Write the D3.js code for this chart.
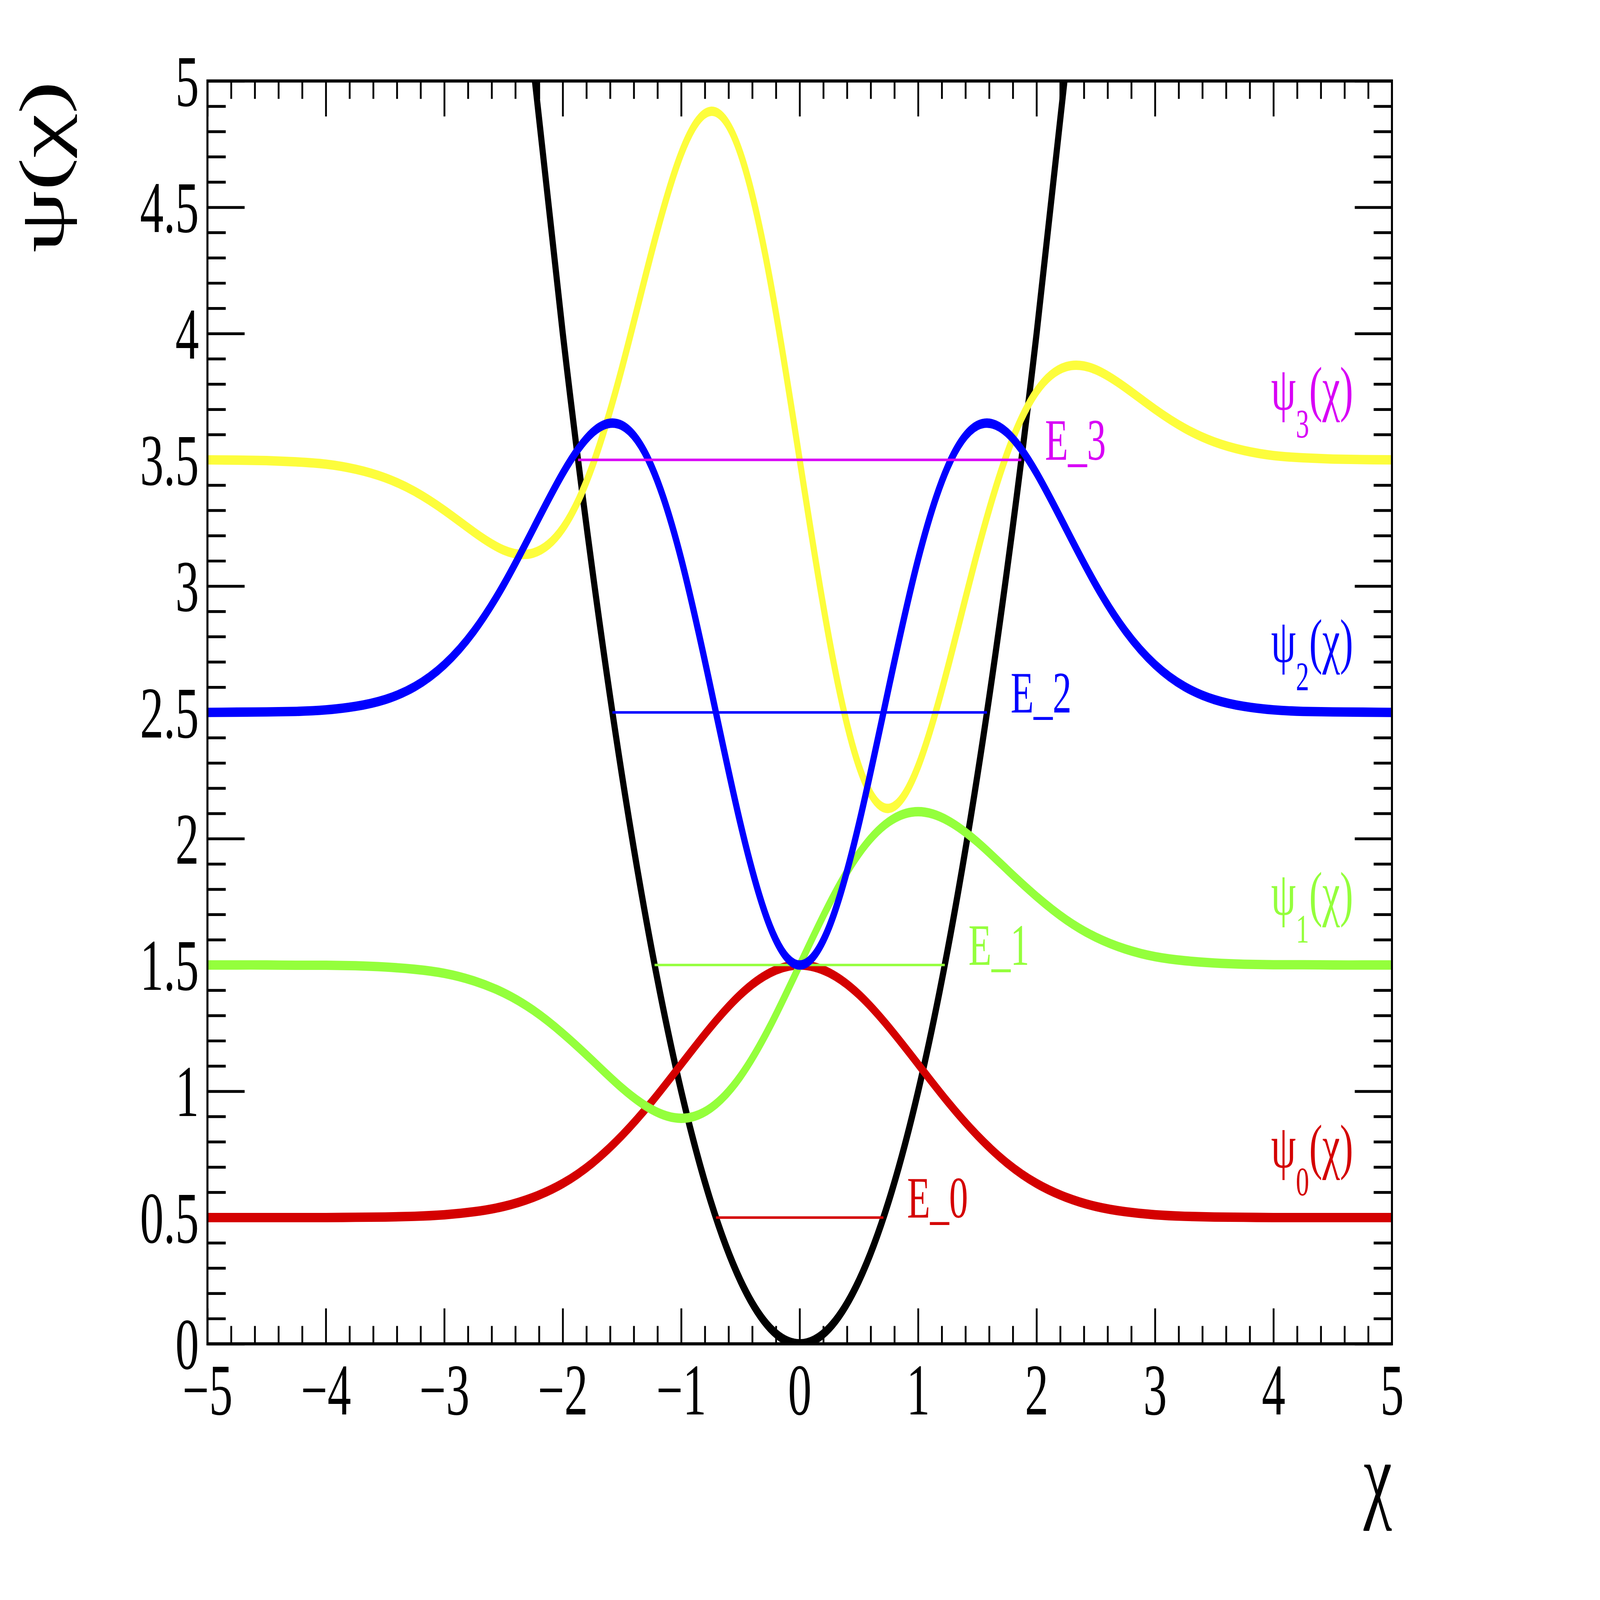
<!DOCTYPE html>
<html>
<head>
<meta charset="utf-8">
<script src="https://cdn.jsdelivr.net/npm/d3@7"></script>
<style>
html, body { margin: 0; padding: 0; background: #fff; overflow: hidden; }
svg { display: block; width: 100vw; height: 100vh; }
text { font-family: "Liberation Serif", "Times New Roman", serif; }
</style>
</head>
<body>
<svg id="chart" viewBox="0 0 7875 5097" preserveAspectRatio="none"></svg>
<script>
// sample positions along chi (every 0.25)
var xGrid = [-5, -4.75, -4.5, -4.25, -4, -3.75, -3.5, -3.25, -3, -2.75, -2.5, -2.25, -2, -1.75, -1.5, -1.25, -1, -0.75, -0.5, -0.25,
             0, 0.25, 0.5, 0.75, 1, 1.25, 1.5, 1.75, 2, 2.25, 2.5, 2.75, 3, 3.25, 3.5, 3.75, 4, 4.25, 4.5, 4.75, 5];

// wave functions shifted by their energy level
var psi0 = [0.500, 0.500, 0.500, 0.500, 0.500, 0.501, 0.502, 0.505, 0.511, 0.523, 0.544, 0.580, 0.635, 0.716, 0.825, 0.958, 1.107, 1.255, 1.383, 1.469,
            1.500, 1.469, 1.383, 1.255, 1.107, 0.958, 0.825, 0.716, 0.635, 0.580, 0.544, 0.523, 0.511, 0.505, 0.502, 0.501, 0.500, 0.500, 0.500, 0.500, 0.500];
var psi1 = [1.500, 1.500, 1.500, 1.499, 1.499, 1.497, 1.492, 1.483, 1.467, 1.437, 1.390, 1.321, 1.229, 1.122, 1.013, 0.928, 0.893, 0.934, 1.059, 1.258,
            1.500, 1.742, 1.941, 2.066, 2.107, 2.072, 1.987, 1.878, 1.771, 1.679, 1.610, 1.563, 1.533, 1.517, 1.508, 1.503, 1.501, 1.501, 1.500, 1.500, 1.500];
var psi2 = [2.500, 2.501, 2.502, 2.504, 2.510, 2.524, 2.551, 2.602, 2.689, 2.822, 3.005, 3.226, 3.447, 3.608, 3.636, 3.473, 3.107, 2.594, 2.059, 1.652,
            1.500, 1.652, 2.059, 2.594, 3.107, 3.473, 3.636, 3.608, 3.447, 3.226, 3.005, 2.822, 2.689, 2.602, 2.551, 2.524, 2.510, 2.504, 2.502, 2.501, 2.500];
var psi3 = [3.500, 3.499, 3.497, 3.492, 3.483, 3.463, 3.429, 3.375, 3.300, 3.214, 3.143, 3.131, 3.229, 3.476, 3.865, 4.323, 4.713, 4.880, 4.713, 4.212,
            3.500, 2.788, 2.287, 2.120, 2.287, 2.677, 3.135, 3.524, 3.771, 3.869, 3.857, 3.786, 3.700, 3.625, 3.571, 3.537, 3.517, 3.508, 3.503, 3.501, 3.500];

// the potential well
var potX = [-2.25, -2, -1.75, -1.5, -1.25, -1, -0.75, -0.5, -0.25, 0, 0.25, 0.5, 0.75, 1, 1.25, 1.5, 1.75, 2, 2.25];
var potV = [5.0625, 4, 3.0625, 2.25, 1.5625, 1, 0.5625, 0.25, 0.0625, 0, 0.0625, 0.25, 0.5625, 1, 1.5625, 2.25, 3.0625, 4, 5.0625];

// energy levels and where they meet the well
var levelEnergy = [0.5, 1.5, 2.5, 3.5];
var turnLeft = [-0.707, -1.225, -1.581, -1.871];
var turnRight = [0.707, 1.225, 1.581, 1.871];
var energyLabel = ["E_0", "E_1", "E_2", "E_3"];
var waveSub = ["0", "1", "2", "3"];

var xTicks = [-5, -4, -3, -2, -1, 0, 1, 2, 3, 4, 5];
var yTicks = [0, 0.5, 1, 1.5, 2, 2.5, 3, 3.5, 4, 4.5, 5];

var waves = [psi0, psi1, psi2, psi3];
var curveColor = ["#d40000", "#94ff3c", "#0000ff", "#fdfd3c"];
var labelColor = ["#d40000", "#94ff3c", "#0000ff", "#d800f6"];

var svg = d3.select("#chart");
var padL = 1021, padR = 6851, padT = 258, padB = 4281;

var x = d3.scaleLinear().domain([-5, 5]).range([padL, padR]);
var y = d3.scaleLinear().domain([0, 5]).range([padB, padT]);
var fmt = d3.format("~g");

var minorX = d3.range(-25, 26).map(i => i * 0.2).filter(v => Math.abs(v - Math.round(v)) > 1e-6);
var minorY = d3.range(0, 51).map(i => i * 0.1).filter(v => Math.abs(v * 2 - Math.round(v * 2)) > 1e-6);

// axes, ticks pointing inwards on all four sides
function styleAxis(g) {
    g.attr("font-size", null).attr("font-family", null);
    g.select(".domain").remove();
    g.selectAll(".tick line").attr("stroke", "#000").attr("stroke-width", 9);
}

var gx = svg.append("g").attr("transform", `translate(0,${padB})`)
    .call(d3.axisBottom(x).tickValues(xTicks).tickFormat(fmt).tickSize(-113).tickSizeOuter(0));
styleAxis(gx);
gx.selectAll("text").attr("y", 225).attr("dy", null).attr("font-size", 232).attr("fill", "#000");

svg.append("g").attr("transform", `translate(0,${padB})`)
    .call(d3.axisBottom(x).tickValues(minorX).tickFormat("").tickSize(-57).tickSizeOuter(0))
    .call(styleAxis);

svg.append("g").attr("transform", `translate(0,${padT})`)
    .call(d3.axisTop(x).tickValues(xTicks).tickFormat("").tickSize(-113).tickSizeOuter(0))
    .call(styleAxis);
svg.append("g").attr("transform", `translate(0,${padT})`)
    .call(d3.axisTop(x).tickValues(minorX).tickFormat("").tickSize(-57).tickSizeOuter(0))
    .call(styleAxis);

var gy = svg.append("g").attr("transform", `translate(${padL},0)`)
    .call(d3.axisLeft(y).tickValues(yTicks).tickFormat(fmt).tickSize(-183).tickSizeOuter(0));
styleAxis(gy);
gy.selectAll("text").attr("x", -42).attr("dy", "0.34em").attr("font-size", 232).attr("fill", "#000");

svg.append("g").attr("transform", `translate(${padL},0)`)
    .call(d3.axisLeft(y).tickValues(minorY).tickFormat("").tickSize(-90).tickSizeOuter(0))
    .call(styleAxis);

svg.append("g").attr("transform", `translate(${padR},0)`)
    .call(d3.axisRight(y).tickValues(yTicks).tickFormat("").tickSize(-183).tickSizeOuter(0))
    .call(styleAxis);
svg.append("g").attr("transform", `translate(${padR},0)`)
    .call(d3.axisRight(y).tickValues(minorY).tickFormat("").tickSize(-90).tickSizeOuter(0))
    .call(styleAxis);

// axis titles
svg.append("text")
    .attr("transform", `translate(312,${padT}) rotate(-90)`)
    .attr("text-anchor", "end")
    .attr("font-size", 315)
    .text("ψ(χ)");

svg.append("text")
    .attr("x", padR).attr("y", 4810)
    .attr("text-anchor", "end")
    .attr("font-size", 315)
    .text("χ");

// curves
svg.append("clipPath").attr("id", "plotClip")
    .append("rect").attr("x", padL).attr("y", padT).attr("width", padR - padL).attr("height", padB - padT);

var waveLine = d3.line()
    .x((d, i) => x(xGrid[i]))
    .y(d => y(d))
    .curve(d3.curveNatural);

var potLine = d3.line()
    .x((d, i) => x(potX[i]))
    .y(d => y(d))
    .curve(d3.curveNatural);

var plot = svg.append("g").attr("clip-path", "url(#plotClip)");

plot.append("path")
    .attr("d", potLine(potV))
    .attr("fill", "none").attr("stroke", "#000").attr("stroke-width", 30);

function drawWave(n) {
    plot.append("path")
        .attr("d", waveLine(waves[n]))
        .attr("fill", "none")
        .attr("stroke", curveColor[n])
        .attr("stroke-width", 30);
}

function drawLevel(n) {
    plot.append("line")
        .attr("x1", x(turnLeft[n])).attr("x2", x(turnRight[n]))
        .attr("y1", y(levelEnergy[n])).attr("y2", y(levelEnergy[n]))
        .attr("stroke", labelColor[n])
        .attr("stroke-width", 8);
}

drawWave(3);
[0, 1, 2].forEach(n => { drawWave(n); drawLevel(n); });
drawLevel(3);

// labels
levelEnergy.forEach((e, n) => {
    svg.append("text")
        .attr("x", x(turnRight[n] + 0.2))
        .attr("y", y(e))
        .attr("font-size", 186)
        .attr("fill", labelColor[n])
        .text(energyLabel[n]);

    var t = svg.append("text")
        .attr("x", x(3.98))
        .attr("y", y(e + 0.2))
        .attr("font-size", 195)
        .attr("fill", labelColor[n]);
    t.append("tspan").text("ψ");
    t.append("tspan").attr("dy", 90).attr("font-size", 130).text(waveSub[n]);
    t.append("tspan").attr("dy", -90).text("(χ)");
});

// frame on top
svg.append("rect")
    .attr("x", padL).attr("y", padT)
    .attr("width", padR - padL).attr("height", padB - padT)
    .attr("fill", "none").attr("stroke", "#000").attr("stroke-width", 10);
</script>
</body>
</html>
